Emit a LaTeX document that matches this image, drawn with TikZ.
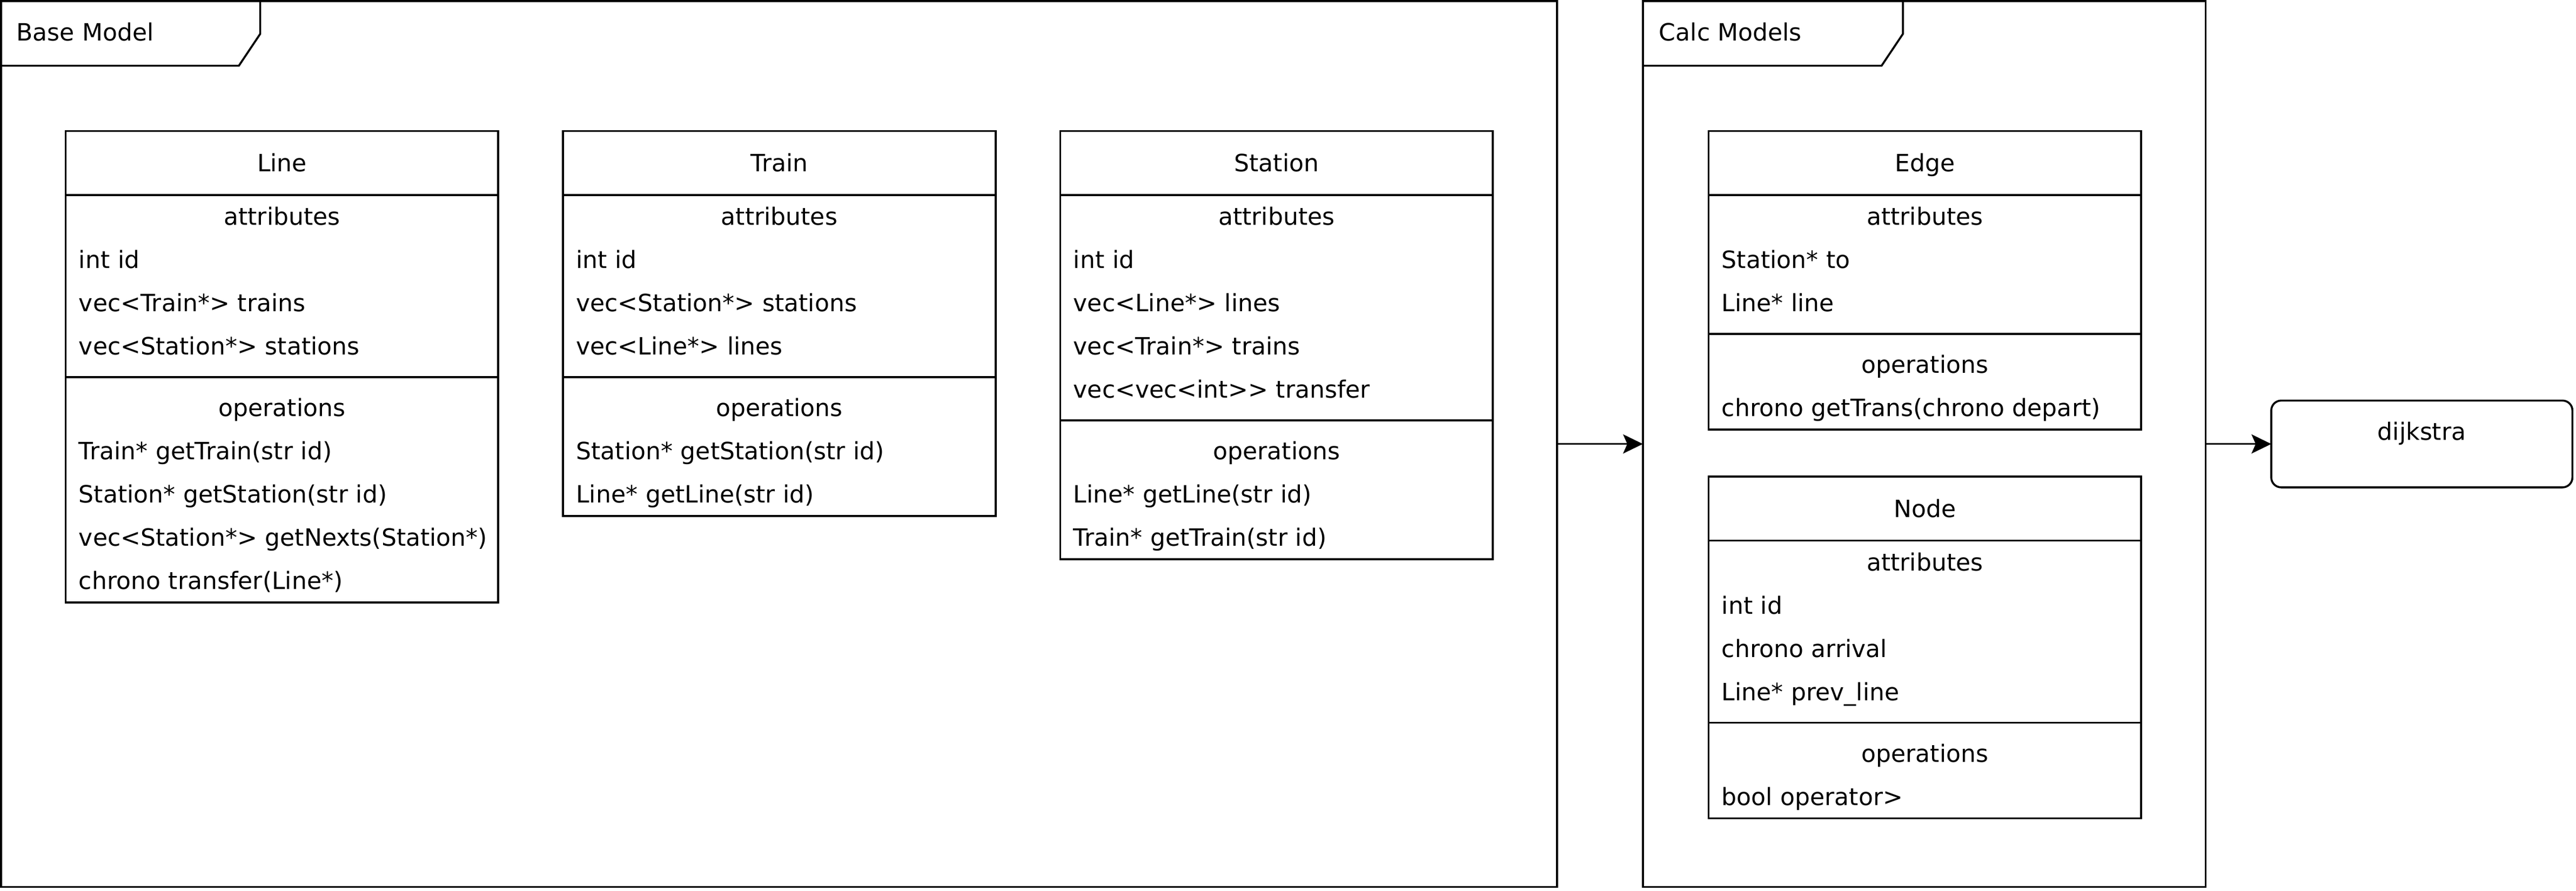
\documentclass[tikz,border=0pt]{standalone}
\usepackage{fontspec}
\setmainfont{DejaVu Sans}
\usetikzlibrary{positioning,arrows.meta}

\newcommand{\rowfont}{\fontsize{14.5pt}{26.3pt}\selectfont}
\newcommand{\rowstrut}{\rule[-7.9pt]{0pt}{26.3pt}}
\newcommand{\gapdepth}{\rule[-13.5pt]{0pt}{13.5pt}}
\newcommand{\gapheight}{\rule{0pt}{24pt}}

\tikzset{
  frame/.style = {draw, line width=1.2pt, outer sep=0pt, inner sep=0pt, anchor=north west},
  tabtext/.style = {font=\rowfont, inner sep=0pt, anchor=base west},
  classtitle/.style = {draw, line width=1.2pt, outer sep=0pt, inner sep=0pt, minimum width=263.3pt, minimum height=39pt, text height=10.6pt, text depth=0pt, font=\rowfont},
  section/.style = {draw, line width=1.2pt, outer sep=0pt, inner xsep=8pt, inner ysep=0pt, text width=247.3pt, align=left, font=\rowfont},
  attrsec/.style = {section, execute at begin node={\rowfont\rowstrut}, execute at end node={\gapdepth}},
  opsec/.style = {section, execute at begin node={\rowfont\gapheight}, execute at end node={\rowstrut}},
  func/.style = {draw, line width=1.2pt, outer sep=0pt, inner sep=0pt, rounded corners=6pt, minimum width=183.3pt, minimum height=52.8pt, text height=24.1pt, text depth=28.7pt, font=\rowfont},
  arrow/.style = {line width=1.2pt, -{Stealth[length=12pt, width=11.6pt, inset=2.5pt]}},
}

\begin{document}
\begin{tikzpicture}[x=1pt, y=1pt]
		\useasboundingbox (0,0) rectangle (1568,-541.96);
		% packages
		\node (base) [frame, minimum width=947.2pt, minimum height=539.2pt] at (0.6,-0.6) {};
		\node (calc) [frame, minimum width=342.5pt, minimum height=539.2pt, right=52.2pt of base] {};
		\node (dijkstra) [func, right=40pt of calc] {dijkstra};
		\draw[line width=1.2pt] (base.north west) ++(157.8,0) -- ++(0,-20) -- ++(-13,-19.4) -- ++(-144.8,0);
		\draw[line width=1.2pt] (calc.north west) ++(158.3,0) -- ++(0,-20) -- ++(-13,-19.4) -- ++(-145.3,0);
		\node (basetab) [tabtext] at ([shift={(9.3,-24.1)}]base.north west) {Base Model};
		\node (calctab) [tabtext] at ([shift={(9.7,-24.1)}]calc.north west) {Calc Models};
		% base model classes
		\node (line) [classtitle, anchor=north west] at (40,-79.7) {Line};
		\node (lineattr) [attrsec, below=0pt of line] {\hfill attributes\hfill\null\\int id\\vec<Train*> trains\\vec<Station*> stations};
		\node (lineops) [opsec, below=0pt of lineattr] {\hfill operations\hfill\null\\Train* getTrain(str id)\\Station* getStation(str id)\\\mbox{vec<Station*> getNexts(Station*)}\\chrono transfer(Line*)};
		\node (train) [classtitle, right=39.4pt of line] {Train};
		\node (trainattr) [attrsec, below=0pt of train] {\hfill attributes\hfill\null\\int id\\vec<Station*> stations\\vec<Line*> lines};
		\node (trainops) [opsec, below=0pt of trainattr] {\hfill operations\hfill\null\\Station* getStation(str id)\\Line* getLine(str id)};
		\node (station) [classtitle, right=39.4pt of train] {Station};
		\node (stationattr) [attrsec, below=0pt of station] {\hfill attributes\hfill\null\\int id\\vec<Line*> lines\\vec<Train*> trains\\vec<vec<int>{}> transfer};
		\node (stationops) [opsec, below=0pt of stationattr] {\hfill operations\hfill\null\\Line* getLine(str id)\\Train* getTrain(str id)};
		% calc model classes
		\node (edgecls) [classtitle, anchor=north west] at (1040,-79.7) {Edge};
		\node (edgeattr) [attrsec, below=0pt of edgecls] {\hfill attributes\hfill\null\\Station* to\\Line* line};
		\node (edgeops) [opsec, below=0pt of edgeattr] {\hfill operations\hfill\null\\chrono getTrans(chrono depart)};
		\node (nodecls) [classtitle, below=28.6pt of edgeops] {Node};
		\node (nodeattr) [attrsec, below=0pt of nodecls] {\hfill attributes\hfill\null\\int id\\chrono arrival\\Line* prev\_line};
		\node (nodeops) [opsec, below=0pt of nodeattr] {\hfill operations\hfill\null\\bool operator>};
		\path[arrow] (base) edge (calc)
		             (calc) edge (dijkstra);
\end{tikzpicture}
\end{document}
